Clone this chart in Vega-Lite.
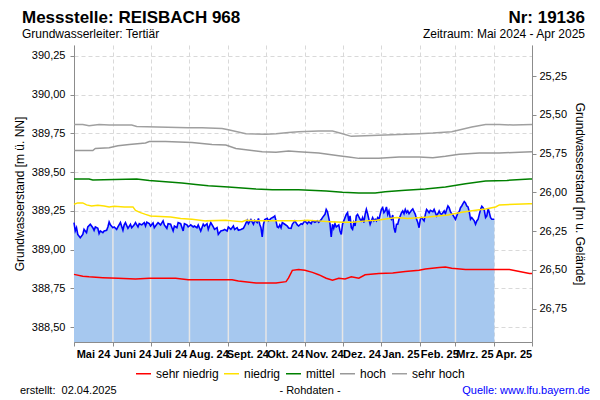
{
  "$schema": "https://vega.github.io/schema/vega-lite/v6.json",
  "width": 458,
  "height": 297,
  "autosize": {"type": "none"},
  "padding": {"left": 74, "top": 45, "right": 68, "bottom": 58},
  "background": "white",
  "config": {
    "font": "Liberation Sans",
    "view": {"stroke": null},
    "axis": {
      "labelFont": "Liberation Sans",
      "titleFont": "Liberation Sans",
      "labelColor": "#000000",
      "titleColor": "#000000",
      "domainColor": "#8c8c8c",
      "tickColor": "#8c8c8c",
      "gridColor": "#d9d9d9",
      "gridDash": [4, 3],
      "labelFontSize": 11,
      "titleFontSize": 12,
      "titleFontWeight": "normal",
      "tickSize": 4
    },
    "legend": {"labelFont": "Liberation Sans", "labelColor": "#000000"}
  },
  "datasets": {
    "messwerte": [
      {"zeit": "2024-05-01", "wert": 389.175}, {"zeit": "2024-05-02", "wert": 389.121}, {"zeit": "2024-05-03", "wert": 389.142}, {"zeit": "2024-05-04", "wert": 389.099},
      {"zeit": "2024-05-06", "wert": 389.078}, {"zeit": "2024-05-08", "wert": 389.099}, {"zeit": "2024-05-09", "wert": 389.131}, {"zeit": "2024-05-11", "wert": 389.110},
      {"zeit": "2024-05-12", "wert": 389.147}, {"zeit": "2024-05-14", "wert": 389.164}, {"zeit": "2024-05-16", "wert": 389.142}, {"zeit": "2024-05-17", "wert": 389.125},
      {"zeit": "2024-05-18", "wert": 389.147}, {"zeit": "2024-05-20", "wert": 389.138}, {"zeit": "2024-05-21", "wert": 389.104}, {"zeit": "2024-05-22", "wert": 389.121},
      {"zeit": "2024-05-24", "wert": 389.110}, {"zeit": "2024-05-25", "wert": 389.121}, {"zeit": "2024-05-27", "wert": 389.125}, {"zeit": "2024-05-28", "wert": 389.147},
      {"zeit": "2024-05-29", "wert": 389.179}, {"zeit": "2024-05-30", "wert": 389.160}, {"zeit": "2024-06-01", "wert": 389.142}, {"zeit": "2024-06-02", "wert": 389.147},
      {"zeit": "2024-06-04", "wert": 389.131}, {"zeit": "2024-06-05", "wert": 389.147}, {"zeit": "2024-06-07", "wert": 389.175}, {"zeit": "2024-06-09", "wert": 389.125},
      {"zeit": "2024-06-10", "wert": 389.160}, {"zeit": "2024-06-11", "wert": 389.175}, {"zeit": "2024-06-13", "wert": 389.138}, {"zeit": "2024-06-15", "wert": 389.164},
      {"zeit": "2024-06-16", "wert": 389.142}, {"zeit": "2024-06-18", "wert": 389.160}, {"zeit": "2024-06-19", "wert": 389.175}, {"zeit": "2024-06-21", "wert": 389.147},
      {"zeit": "2024-06-22", "wert": 389.168}, {"zeit": "2024-06-24", "wert": 389.160}, {"zeit": "2024-06-26", "wert": 389.175}, {"zeit": "2024-06-27", "wert": 389.153},
      {"zeit": "2024-06-28", "wert": 389.177}, {"zeit": "2024-06-30", "wert": 389.168}, {"zeit": "2024-07-01", "wert": 389.153}, {"zeit": "2024-07-03", "wert": 389.173},
      {"zeit": "2024-07-04", "wert": 389.142}, {"zeit": "2024-07-06", "wert": 389.164}, {"zeit": "2024-07-07", "wert": 389.175}, {"zeit": "2024-07-09", "wert": 389.160},
      {"zeit": "2024-07-11", "wert": 389.186}, {"zeit": "2024-07-12", "wert": 389.160}, {"zeit": "2024-07-14", "wert": 389.138}, {"zeit": "2024-07-15", "wert": 389.168},
      {"zeit": "2024-07-17", "wert": 389.164}, {"zeit": "2024-07-19", "wert": 389.121}, {"zeit": "2024-07-20", "wert": 389.153}, {"zeit": "2024-07-22", "wert": 389.142},
      {"zeit": "2024-07-23", "wert": 389.175}, {"zeit": "2024-07-25", "wert": 389.168}, {"zeit": "2024-07-27", "wert": 389.121}, {"zeit": "2024-07-28", "wert": 389.168},
      {"zeit": "2024-07-30", "wert": 389.160}, {"zeit": "2024-07-31", "wert": 389.147}, {"zeit": "2024-08-01", "wert": 389.153}, {"zeit": "2024-08-02", "wert": 389.160},
      {"zeit": "2024-08-04", "wert": 389.147}, {"zeit": "2024-08-05", "wert": 389.153}, {"zeit": "2024-08-07", "wert": 389.142}, {"zeit": "2024-08-08", "wert": 389.160},
      {"zeit": "2024-08-10", "wert": 389.121}, {"zeit": "2024-08-12", "wert": 389.164}, {"zeit": "2024-08-13", "wert": 389.153}, {"zeit": "2024-08-15", "wert": 389.168},
      {"zeit": "2024-08-16", "wert": 389.131}, {"zeit": "2024-08-18", "wert": 389.175}, {"zeit": "2024-08-20", "wert": 389.147}, {"zeit": "2024-08-21", "wert": 389.131},
      {"zeit": "2024-08-23", "wert": 389.142}, {"zeit": "2024-08-24", "wert": 389.099}, {"zeit": "2024-08-26", "wert": 389.121}, {"zeit": "2024-08-28", "wert": 389.125},
      {"zeit": "2024-08-29", "wert": 389.131}, {"zeit": "2024-08-31", "wert": 389.121}, {"zeit": "2024-09-01", "wert": 389.147}, {"zeit": "2024-09-03", "wert": 389.131},
      {"zeit": "2024-09-05", "wert": 389.153}, {"zeit": "2024-09-06", "wert": 389.131}, {"zeit": "2024-09-08", "wert": 389.142}, {"zeit": "2024-09-09", "wert": 389.125},
      {"zeit": "2024-09-11", "wert": 389.131}, {"zeit": "2024-09-13", "wert": 389.138}, {"zeit": "2024-09-14", "wert": 389.153}, {"zeit": "2024-09-16", "wert": 389.189},
      {"zeit": "2024-09-17", "wert": 389.168}, {"zeit": "2024-09-19", "wert": 389.194}, {"zeit": "2024-09-21", "wert": 389.164}, {"zeit": "2024-09-22", "wert": 389.189},
      {"zeit": "2024-09-24", "wert": 389.175}, {"zeit": "2024-09-25", "wert": 389.202}, {"zeit": "2024-09-26", "wert": 389.164}, {"zeit": "2024-09-27", "wert": 389.142},
      {"zeit": "2024-09-28", "wert": 389.082}, {"zeit": "2024-09-29", "wert": 389.164}, {"zeit": "2024-09-30", "wert": 389.194}, {"zeit": "2024-10-01", "wert": 389.198},
      {"zeit": "2024-10-02", "wert": 389.202}, {"zeit": "2024-10-03", "wert": 389.186}, {"zeit": "2024-10-05", "wert": 389.202}, {"zeit": "2024-10-07", "wert": 389.211},
      {"zeit": "2024-10-08", "wert": 389.218}, {"zeit": "2024-10-09", "wert": 389.186}, {"zeit": "2024-10-10", "wert": 389.147}, {"zeit": "2024-10-11", "wert": 389.142},
      {"zeit": "2024-10-12", "wert": 389.160}, {"zeit": "2024-10-13", "wert": 389.142}, {"zeit": "2024-10-14", "wert": 389.175}, {"zeit": "2024-10-16", "wert": 389.164},
      {"zeit": "2024-10-18", "wert": 389.153}, {"zeit": "2024-10-19", "wert": 389.140}, {"zeit": "2024-10-21", "wert": 389.138}, {"zeit": "2024-10-22", "wert": 389.164},
      {"zeit": "2024-10-24", "wert": 389.186}, {"zeit": "2024-10-26", "wert": 389.160}, {"zeit": "2024-10-27", "wert": 389.153}, {"zeit": "2024-10-29", "wert": 389.168},
      {"zeit": "2024-10-30", "wert": 389.164}, {"zeit": "2024-11-01", "wert": 389.186}, {"zeit": "2024-11-03", "wert": 389.168}, {"zeit": "2024-11-04", "wert": 389.181},
      {"zeit": "2024-11-06", "wert": 389.168}, {"zeit": "2024-11-07", "wert": 389.186}, {"zeit": "2024-11-09", "wert": 389.177}, {"zeit": "2024-11-11", "wert": 389.186},
      {"zeit": "2024-11-12", "wert": 389.177}, {"zeit": "2024-11-14", "wert": 389.194}, {"zeit": "2024-11-15", "wert": 389.207}, {"zeit": "2024-11-17", "wert": 389.228},
      {"zeit": "2024-11-18", "wert": 389.260}, {"zeit": "2024-11-19", "wert": 389.245}, {"zeit": "2024-11-20", "wert": 389.207}, {"zeit": "2024-11-21", "wert": 389.168},
      {"zeit": "2024-11-22", "wert": 389.082}, {"zeit": "2024-11-23", "wert": 389.164}, {"zeit": "2024-11-24", "wert": 389.138}, {"zeit": "2024-11-25", "wert": 389.168},
      {"zeit": "2024-11-26", "wert": 389.147}, {"zeit": "2024-11-28", "wert": 389.160}, {"zeit": "2024-11-29", "wert": 389.121}, {"zeit": "2024-11-30", "wert": 389.099},
      {"zeit": "2024-12-01", "wert": 389.164}, {"zeit": "2024-12-02", "wert": 389.186}, {"zeit": "2024-12-03", "wert": 389.207}, {"zeit": "2024-12-04", "wert": 389.228},
      {"zeit": "2024-12-05", "wert": 389.239}, {"zeit": "2024-12-06", "wert": 389.186}, {"zeit": "2024-12-07", "wert": 389.218}, {"zeit": "2024-12-08", "wert": 389.142},
      {"zeit": "2024-12-09", "wert": 389.131}, {"zeit": "2024-12-10", "wert": 389.175}, {"zeit": "2024-12-11", "wert": 389.153}, {"zeit": "2024-12-12", "wert": 389.218},
      {"zeit": "2024-12-13", "wert": 389.228}, {"zeit": "2024-12-15", "wert": 389.196}, {"zeit": "2024-12-16", "wert": 389.186}, {"zeit": "2024-12-17", "wert": 389.207},
      {"zeit": "2024-12-18", "wert": 389.175}, {"zeit": "2024-12-19", "wert": 389.228}, {"zeit": "2024-12-20", "wert": 389.260}, {"zeit": "2024-12-21", "wert": 389.232},
      {"zeit": "2024-12-22", "wert": 389.196}, {"zeit": "2024-12-23", "wert": 389.164}, {"zeit": "2024-12-24", "wert": 389.186}, {"zeit": "2024-12-25", "wert": 389.207},
      {"zeit": "2024-12-26", "wert": 389.186}, {"zeit": "2024-12-27", "wert": 389.196}, {"zeit": "2024-12-28", "wert": 389.186}, {"zeit": "2024-12-29", "wert": 389.207},
      {"zeit": "2024-12-30", "wert": 389.196}, {"zeit": "2025-01-01", "wert": 389.260}, {"zeit": "2025-01-02", "wert": 389.271}, {"zeit": "2025-01-03", "wert": 389.239},
      {"zeit": "2025-01-04", "wert": 389.250}, {"zeit": "2025-01-05", "wert": 389.276}, {"zeit": "2025-01-06", "wert": 389.228}, {"zeit": "2025-01-07", "wert": 389.250},
      {"zeit": "2025-01-08", "wert": 389.207}, {"zeit": "2025-01-09", "wert": 389.196}, {"zeit": "2025-01-10", "wert": 389.224}, {"zeit": "2025-01-11", "wert": 389.142},
      {"zeit": "2025-01-12", "wert": 389.110}, {"zeit": "2025-01-13", "wert": 389.164}, {"zeit": "2025-01-14", "wert": 389.164}, {"zeit": "2025-01-15", "wert": 389.196},
      {"zeit": "2025-01-16", "wert": 389.218}, {"zeit": "2025-01-17", "wert": 389.239}, {"zeit": "2025-01-18", "wert": 389.250}, {"zeit": "2025-01-19", "wert": 389.232},
      {"zeit": "2025-01-20", "wert": 389.260}, {"zeit": "2025-01-21", "wert": 389.239}, {"zeit": "2025-01-22", "wert": 389.250}, {"zeit": "2025-01-23", "wert": 389.232},
      {"zeit": "2025-01-25", "wert": 389.254}, {"zeit": "2025-01-26", "wert": 389.263}, {"zeit": "2025-01-27", "wert": 389.245}, {"zeit": "2025-01-28", "wert": 389.228},
      {"zeit": "2025-01-29", "wert": 389.196}, {"zeit": "2025-01-30", "wert": 389.175}, {"zeit": "2025-01-31", "wert": 389.142}, {"zeit": "2025-02-01", "wert": 389.196},
      {"zeit": "2025-02-02", "wert": 389.207}, {"zeit": "2025-02-03", "wert": 389.196}, {"zeit": "2025-02-04", "wert": 389.186}, {"zeit": "2025-02-05", "wert": 389.228},
      {"zeit": "2025-02-06", "wert": 389.260}, {"zeit": "2025-02-07", "wert": 389.250}, {"zeit": "2025-02-08", "wert": 389.239}, {"zeit": "2025-02-09", "wert": 389.254},
      {"zeit": "2025-02-11", "wert": 389.245}, {"zeit": "2025-02-12", "wert": 389.260}, {"zeit": "2025-02-13", "wert": 389.239}, {"zeit": "2025-02-14", "wert": 389.218},
      {"zeit": "2025-02-15", "wert": 389.232}, {"zeit": "2025-02-16", "wert": 389.250}, {"zeit": "2025-02-17", "wert": 389.232}, {"zeit": "2025-02-18", "wert": 389.228},
      {"zeit": "2025-02-19", "wert": 389.239}, {"zeit": "2025-02-20", "wert": 389.250}, {"zeit": "2025-02-21", "wert": 389.232}, {"zeit": "2025-02-22", "wert": 389.260},
      {"zeit": "2025-02-23", "wert": 389.282}, {"zeit": "2025-02-24", "wert": 389.271}, {"zeit": "2025-02-25", "wert": 389.245}, {"zeit": "2025-02-26", "wert": 389.232},
      {"zeit": "2025-02-27", "wert": 389.224}, {"zeit": "2025-03-01", "wert": 389.196}, {"zeit": "2025-03-02", "wert": 389.218}, {"zeit": "2025-03-03", "wert": 389.239},
      {"zeit": "2025-03-04", "wert": 389.245}, {"zeit": "2025-03-05", "wert": 389.271}, {"zeit": "2025-03-06", "wert": 389.282}, {"zeit": "2025-03-07", "wert": 389.297},
      {"zeit": "2025-03-08", "wert": 389.310}, {"zeit": "2025-03-09", "wert": 389.301}, {"zeit": "2025-03-10", "wert": 389.282}, {"zeit": "2025-03-11", "wert": 389.276},
      {"zeit": "2025-03-12", "wert": 389.245}, {"zeit": "2025-03-13", "wert": 389.196}, {"zeit": "2025-03-14", "wert": 389.207}, {"zeit": "2025-03-16", "wert": 389.186},
      {"zeit": "2025-03-17", "wert": 389.164}, {"zeit": "2025-03-18", "wert": 389.186}, {"zeit": "2025-03-19", "wert": 389.196}, {"zeit": "2025-03-20", "wert": 389.228},
      {"zeit": "2025-03-21", "wert": 389.260}, {"zeit": "2025-03-22", "wert": 389.280}, {"zeit": "2025-03-23", "wert": 389.271}, {"zeit": "2025-03-24", "wert": 389.254},
      {"zeit": "2025-03-25", "wert": 389.207}, {"zeit": "2025-03-26", "wert": 389.218}, {"zeit": "2025-03-27", "wert": 389.267}, {"zeit": "2025-03-28", "wert": 389.239},
      {"zeit": "2025-03-29", "wert": 389.207}, {"zeit": "2025-03-30", "wert": 389.196}, {"zeit": "2025-04-01", "wert": 389.196}
    ],
    "monate": [
      {"zeit": "2024-06-01", "wert": 389.142}, {"zeit": "2024-07-01", "wert": 389.153}, {"zeit": "2024-08-01", "wert": 389.153},
      {"zeit": "2024-09-01", "wert": 389.147}, {"zeit": "2024-10-01", "wert": 389.198}, {"zeit": "2024-11-01", "wert": 389.186},
      {"zeit": "2024-12-01", "wert": 389.164}, {"zeit": "2025-01-01", "wert": 389.260}, {"zeit": "2025-02-01", "wert": 389.196},
      {"zeit": "2025-03-01", "wert": 389.196}
    ],
    "stufen": [
      {"stufe": "sehr hoch", "zeit": "2024-05-01", "wert": 389.808}, {"stufe": "sehr hoch", "zeit": "2024-05-08", "wert": 389.808},
      {"stufe": "sehr hoch", "zeit": "2024-05-13", "wert": 389.800}, {"stufe": "sehr hoch", "zeit": "2024-05-21", "wert": 389.808},
      {"stufe": "sehr hoch", "zeit": "2024-05-29", "wert": 389.804}, {"stufe": "sehr hoch", "zeit": "2024-06-16", "wert": 389.804},
      {"stufe": "sehr hoch", "zeit": "2024-06-20", "wert": 389.795}, {"stufe": "sehr hoch", "zeit": "2024-07-31", "wert": 389.787},
      {"stufe": "sehr hoch", "zeit": "2024-08-11", "wert": 389.787}, {"stufe": "sehr hoch", "zeit": "2024-08-27", "wert": 389.782},
      {"stufe": "sehr hoch", "zeit": "2024-09-01", "wert": 389.774}, {"stufe": "sehr hoch", "zeit": "2024-09-15", "wert": 389.748},
      {"stufe": "sehr hoch", "zeit": "2024-10-01", "wert": 389.744}, {"stufe": "sehr hoch", "zeit": "2024-10-09", "wert": 389.748},
      {"stufe": "sehr hoch", "zeit": "2024-10-19", "wert": 389.756}, {"stufe": "sehr hoch", "zeit": "2024-10-27", "wert": 389.761},
      {"stufe": "sehr hoch", "zeit": "2024-11-12", "wert": 389.765}, {"stufe": "sehr hoch", "zeit": "2024-11-23", "wert": 389.765},
      {"stufe": "sehr hoch", "zeit": "2024-12-01", "wert": 389.748}, {"stufe": "sehr hoch", "zeit": "2024-12-08", "wert": 389.731},
      {"stufe": "sehr hoch", "zeit": "2024-12-19", "wert": 389.735}, {"stufe": "sehr hoch", "zeit": "2025-01-04", "wert": 389.740},
      {"stufe": "sehr hoch", "zeit": "2025-01-31", "wert": 389.748}, {"stufe": "sehr hoch", "zeit": "2025-02-11", "wert": 389.752},
      {"stufe": "sehr hoch", "zeit": "2025-02-26", "wert": 389.761}, {"stufe": "sehr hoch", "zeit": "2025-03-14", "wert": 389.791},
      {"stufe": "sehr hoch", "zeit": "2025-03-25", "wert": 389.808}, {"stufe": "sehr hoch", "zeit": "2025-04-05", "wert": 389.808},
      {"stufe": "sehr hoch", "zeit": "2025-04-16", "wert": 389.804}, {"stufe": "sehr hoch", "zeit": "2025-05-01", "wert": 389.808},
      {"stufe": "hoch", "zeit": "2024-05-01", "wert": 389.640}, {"stufe": "hoch", "zeit": "2024-05-16", "wert": 389.640},
      {"stufe": "hoch", "zeit": "2024-05-18", "wert": 389.653}, {"stufe": "hoch", "zeit": "2024-05-29", "wert": 389.658},
      {"stufe": "hoch", "zeit": "2024-06-05", "wert": 389.671}, {"stufe": "hoch", "zeit": "2024-06-14", "wert": 389.679},
      {"stufe": "hoch", "zeit": "2024-06-27", "wert": 389.688}, {"stufe": "hoch", "zeit": "2024-06-30", "wert": 389.697},
      {"stufe": "hoch", "zeit": "2024-07-13", "wert": 389.697}, {"stufe": "hoch", "zeit": "2024-08-03", "wert": 389.692},
      {"stufe": "hoch", "zeit": "2024-08-19", "wert": 389.679}, {"stufe": "hoch", "zeit": "2024-08-30", "wert": 389.675},
      {"stufe": "hoch", "zeit": "2024-09-07", "wert": 389.653}, {"stufe": "hoch", "zeit": "2024-09-15", "wert": 389.645},
      {"stufe": "hoch", "zeit": "2024-09-28", "wert": 389.632}, {"stufe": "hoch", "zeit": "2024-10-09", "wert": 389.628},
      {"stufe": "hoch", "zeit": "2024-10-19", "wert": 389.636}, {"stufe": "hoch", "zeit": "2024-10-27", "wert": 389.632},
      {"stufe": "hoch", "zeit": "2024-11-12", "wert": 389.624}, {"stufe": "hoch", "zeit": "2024-11-28", "wert": 389.606},
      {"stufe": "hoch", "zeit": "2024-12-06", "wert": 389.598}, {"stufe": "hoch", "zeit": "2024-12-14", "wert": 389.589},
      {"stufe": "hoch", "zeit": "2024-12-30", "wert": 389.589}, {"stufe": "hoch", "zeit": "2025-01-15", "wert": 389.598},
      {"stufe": "hoch", "zeit": "2025-01-31", "wert": 389.598}, {"stufe": "hoch", "zeit": "2025-02-11", "wert": 389.593},
      {"stufe": "hoch", "zeit": "2025-02-21", "wert": 389.602}, {"stufe": "hoch", "zeit": "2025-03-04", "wert": 389.615},
      {"stufe": "hoch", "zeit": "2025-03-20", "wert": 389.624}, {"stufe": "hoch", "zeit": "2025-04-05", "wert": 389.624},
      {"stufe": "hoch", "zeit": "2025-04-21", "wert": 389.628}, {"stufe": "hoch", "zeit": "2025-05-01", "wert": 389.632},
      {"stufe": "mittel", "zeit": "2024-05-01", "wert": 389.456}, {"stufe": "mittel", "zeit": "2024-05-13", "wert": 389.456},
      {"stufe": "mittel", "zeit": "2024-05-16", "wert": 389.450}, {"stufe": "mittel", "zeit": "2024-06-20", "wert": 389.456},
      {"stufe": "mittel", "zeit": "2024-06-30", "wert": 389.447}, {"stufe": "mittel", "zeit": "2024-07-13", "wert": 389.439},
      {"stufe": "mittel", "zeit": "2024-07-26", "wert": 389.430}, {"stufe": "mittel", "zeit": "2024-08-06", "wert": 389.421},
      {"stufe": "mittel", "zeit": "2024-08-16", "wert": 389.413}, {"stufe": "mittel", "zeit": "2024-09-01", "wert": 389.405},
      {"stufe": "mittel", "zeit": "2024-09-23", "wert": 389.392}, {"stufe": "mittel", "zeit": "2024-10-06", "wert": 389.387},
      {"stufe": "mittel", "zeit": "2024-10-27", "wert": 389.387}, {"stufe": "mittel", "zeit": "2024-11-18", "wert": 389.379},
      {"stufe": "mittel", "zeit": "2024-12-01", "wert": 389.370}, {"stufe": "mittel", "zeit": "2024-12-14", "wert": 389.366},
      {"stufe": "mittel", "zeit": "2024-12-27", "wert": 389.366}, {"stufe": "mittel", "zeit": "2025-01-04", "wert": 389.374},
      {"stufe": "mittel", "zeit": "2025-01-20", "wert": 389.383}, {"stufe": "mittel", "zeit": "2025-02-05", "wert": 389.392},
      {"stufe": "mittel", "zeit": "2025-02-21", "wert": 389.405}, {"stufe": "mittel", "zeit": "2025-03-09", "wert": 389.426},
      {"stufe": "mittel", "zeit": "2025-03-25", "wert": 389.443}, {"stufe": "mittel", "zeit": "2025-04-11", "wert": 389.447},
      {"stufe": "mittel", "zeit": "2025-04-29", "wert": 389.456}, {"stufe": "mittel", "zeit": "2025-05-01", "wert": 389.456},
      {"stufe": "niedrig", "zeit": "2024-05-01", "wert": 389.293}, {"stufe": "niedrig", "zeit": "2024-05-04", "wert": 389.302},
      {"stufe": "niedrig", "zeit": "2024-05-08", "wert": 389.302}, {"stufe": "niedrig", "zeit": "2024-05-11", "wert": 389.289},
      {"stufe": "niedrig", "zeit": "2024-05-15", "wert": 389.282}, {"stufe": "niedrig", "zeit": "2024-05-20", "wert": 389.286},
      {"stufe": "niedrig", "zeit": "2024-05-25", "wert": 389.282}, {"stufe": "niedrig", "zeit": "2024-05-29", "wert": 389.276},
      {"stufe": "niedrig", "zeit": "2024-06-02", "wert": 389.280}, {"stufe": "niedrig", "zeit": "2024-06-10", "wert": 389.276},
      {"stufe": "niedrig", "zeit": "2024-06-17", "wert": 389.276}, {"stufe": "niedrig", "zeit": "2024-06-19", "wert": 389.254},
      {"stufe": "niedrig", "zeit": "2024-06-23", "wert": 389.239}, {"stufe": "niedrig", "zeit": "2024-06-27", "wert": 389.228},
      {"stufe": "niedrig", "zeit": "2024-07-01", "wert": 389.218}, {"stufe": "niedrig", "zeit": "2024-07-09", "wert": 389.215},
      {"stufe": "niedrig", "zeit": "2024-07-17", "wert": 389.211}, {"stufe": "niedrig", "zeit": "2024-07-25", "wert": 389.202},
      {"stufe": "niedrig", "zeit": "2024-08-03", "wert": 389.196}, {"stufe": "niedrig", "zeit": "2024-08-14", "wert": 389.186},
      {"stufe": "niedrig", "zeit": "2024-08-30", "wert": 389.190}, {"stufe": "niedrig", "zeit": "2024-09-04", "wert": 389.186},
      {"stufe": "niedrig", "zeit": "2024-09-12", "wert": 389.181}, {"stufe": "niedrig", "zeit": "2024-09-15", "wert": 389.190},
      {"stufe": "niedrig", "zeit": "2024-09-25", "wert": 389.186}, {"stufe": "niedrig", "zeit": "2024-10-26", "wert": 389.186},
      {"stufe": "niedrig", "zeit": "2024-11-03", "wert": 389.190}, {"stufe": "niedrig", "zeit": "2024-11-11", "wert": 389.186},
      {"stufe": "niedrig", "zeit": "2024-11-21", "wert": 389.181}, {"stufe": "niedrig", "zeit": "2024-12-02", "wert": 389.177},
      {"stufe": "niedrig", "zeit": "2024-12-09", "wert": 389.177}, {"stufe": "niedrig", "zeit": "2024-12-20", "wert": 389.186},
      {"stufe": "niedrig", "zeit": "2024-12-28", "wert": 389.190}, {"stufe": "niedrig", "zeit": "2025-01-03", "wert": 389.196},
      {"stufe": "niedrig", "zeit": "2025-01-13", "wert": 389.207}, {"stufe": "niedrig", "zeit": "2025-01-22", "wert": 389.202},
      {"stufe": "niedrig", "zeit": "2025-02-07", "wert": 389.211}, {"stufe": "niedrig", "zeit": "2025-02-23", "wert": 389.224},
      {"stufe": "niedrig", "zeit": "2025-03-06", "wert": 389.241}, {"stufe": "niedrig", "zeit": "2025-03-17", "wert": 389.254},
      {"stufe": "niedrig", "zeit": "2025-03-25", "wert": 389.263}, {"stufe": "niedrig", "zeit": "2025-04-02", "wert": 389.276},
      {"stufe": "niedrig", "zeit": "2025-04-05", "wert": 389.289}, {"stufe": "niedrig", "zeit": "2025-04-29", "wert": 389.297},
      {"stufe": "niedrig", "zeit": "2025-05-01", "wert": 389.297},
      {"stufe": "sehr niedrig", "zeit": "2024-05-01", "wert": 388.841}, {"stufe": "sehr niedrig", "zeit": "2024-05-08", "wert": 388.829},
      {"stufe": "sehr niedrig", "zeit": "2024-05-13", "wert": 388.825}, {"stufe": "sehr niedrig", "zeit": "2024-05-24", "wert": 388.820},
      {"stufe": "sehr niedrig", "zeit": "2024-06-05", "wert": 388.816}, {"stufe": "sehr niedrig", "zeit": "2024-06-19", "wert": 388.812},
      {"stufe": "sehr niedrig", "zeit": "2024-06-30", "wert": 388.816}, {"stufe": "sehr niedrig", "zeit": "2024-07-21", "wert": 388.816},
      {"stufe": "sehr niedrig", "zeit": "2024-07-31", "wert": 388.807}, {"stufe": "sehr niedrig", "zeit": "2024-09-04", "wert": 388.807},
      {"stufe": "sehr niedrig", "zeit": "2024-09-09", "wert": 388.799}, {"stufe": "sehr niedrig", "zeit": "2024-09-23", "wert": 388.786},
      {"stufe": "sehr niedrig", "zeit": "2024-10-09", "wert": 388.786}, {"stufe": "sehr niedrig", "zeit": "2024-10-17", "wert": 388.794},
      {"stufe": "sehr niedrig", "zeit": "2024-10-19", "wert": 388.818}, {"stufe": "sehr niedrig", "zeit": "2024-10-22", "wert": 388.867},
      {"stufe": "sehr niedrig", "zeit": "2024-10-27", "wert": 388.872}, {"stufe": "sehr niedrig", "zeit": "2024-11-01", "wert": 388.867},
      {"stufe": "sehr niedrig", "zeit": "2024-11-07", "wert": 388.854}, {"stufe": "sehr niedrig", "zeit": "2024-11-12", "wert": 388.839},
      {"stufe": "sehr niedrig", "zeit": "2024-11-18", "wert": 388.816}, {"stufe": "sehr niedrig", "zeit": "2024-11-23", "wert": 388.803},
      {"stufe": "sehr niedrig", "zeit": "2024-11-28", "wert": 388.816}, {"stufe": "sehr niedrig", "zeit": "2024-12-03", "wert": 388.812},
      {"stufe": "sehr niedrig", "zeit": "2024-12-08", "wert": 388.825}, {"stufe": "sehr niedrig", "zeit": "2024-12-14", "wert": 388.816},
      {"stufe": "sehr niedrig", "zeit": "2024-12-19", "wert": 388.838}, {"stufe": "sehr niedrig", "zeit": "2024-12-30", "wert": 388.846},
      {"stufe": "sehr niedrig", "zeit": "2025-01-10", "wert": 388.850}, {"stufe": "sehr niedrig", "zeit": "2025-01-20", "wert": 388.859},
      {"stufe": "sehr niedrig", "zeit": "2025-01-31", "wert": 388.867}, {"stufe": "sehr niedrig", "zeit": "2025-02-05", "wert": 388.876},
      {"stufe": "sehr niedrig", "zeit": "2025-02-16", "wert": 388.885}, {"stufe": "sehr niedrig", "zeit": "2025-02-21", "wert": 388.889},
      {"stufe": "sehr niedrig", "zeit": "2025-02-26", "wert": 388.880}, {"stufe": "sehr niedrig", "zeit": "2025-03-09", "wert": 388.872},
      {"stufe": "sehr niedrig", "zeit": "2025-03-25", "wert": 388.872}, {"stufe": "sehr niedrig", "zeit": "2025-04-13", "wert": 388.872},
      {"stufe": "sehr niedrig", "zeit": "2025-04-21", "wert": 388.859}, {"stufe": "sehr niedrig", "zeit": "2025-04-29", "wert": 388.846},
      {"stufe": "sehr niedrig", "zeit": "2025-05-01", "wert": 388.846}
    ]
  },
  "layer": [
    {
      "data": {"name": "messwerte"},
      "mark": {"type": "area", "color": "#a6c8ef", "opacity": 1},
      "encoding": {
        "x": {
          "field": "zeit", "type": "temporal",
          "scale": {"domain": [{"year": 2024, "month": 5, "date": 1}, {"year": 2025, "month": 5, "date": 1}], "nice": false},
          "axis": {
            "title": null,
            "orient": "bottom",
            "tickCount": {"interval": "month", "step": 1},
            "labelExpr": "(year(datum.value) == 2025 && month(datum.value) == 4) ? '' : ['Jan.','Feb.','Mrz.','Apr.','Mai','Juni','Juli','Aug.','Sept.','Okt.','Nov.','Dez.'][month(datum.value)] + ' ' + timeFormat(datum.value, '%y')",
            "labelAlign": "center",
            "labelOffset": 19,
            "labelFontWeight": "bold",
            "labelOverlap": false,
            "labelBound": false,
            "labelFlush": false,
            "labelPadding": 2,
            "grid": true
          }
        },
        "y": {
          "field": "wert", "type": "quantitative",
          "scale": {"domain": [388.405, 390.32], "nice": false, "zero": false},
          "axis": {
            "title": "Grundwasserstand [m ü. NN]",
            "orient": "left",
            "values": [388.5, 388.75, 389, 389.25, 389.5, 389.75, 390, 390.25],
            "labelExpr": "replace(format(datum.value, '.2f'), '.', ',')",
            "labelPadding": 5,
            "titlePadding": 5,
            "grid": true
          }
        },
        "y2": {"datum": 388.405}
      }
    },
    {
      "data": {"name": "monate"},
      "mark": {"type": "rule", "color": "#e6e6e6", "strokeWidth": 1.5},
      "encoding": {
        "x": {"field": "zeit", "type": "temporal", "axis": null},
        "y": {"field": "wert", "type": "quantitative", "axis": null},
        "y2": {"datum": 388.405}
      }
    },
    {
      "data": {"name": "messwerte"},
      "mark": {"type": "line", "color": "#0000ff", "strokeWidth": 1.6},
      "encoding": {
        "x": {"field": "zeit", "type": "temporal", "axis": null},
        "y": {"field": "wert", "type": "quantitative", "axis": null}
      }
    },
    {
      "data": {"name": "stufen"},
      "mark": {"type": "line", "strokeWidth": 1.5},
      "encoding": {
        "x": {"field": "zeit", "type": "temporal", "axis": null},
        "y": {"field": "wert", "type": "quantitative", "axis": null},
        "color": {
          "field": "stufe", "type": "nominal",
          "scale": {
            "domain": ["sehr niedrig", "niedrig", "mittel", "hoch", "sehr hoch"],
            "range": ["#ff0000", "#ffe100", "#008000", "#999999", "#a0a0a0"]
          },
          "legend": {
            "title": null,
            "orient": "none",
            "legendX": 61,
            "legendY": 320,
            "direction": "horizontal",
            "symbolType": "stroke",
            "symbolSize": 225,
            "symbolStrokeWidth": 1.5,
            "labelFontSize": 12,
            "labelOffset": 4,
            "columnPadding": 2,
            "padding": 0
          }
        }
      }
    },
    {
      "data": {"values": [{}]},
      "mark": {"type": "text", "align": "left", "baseline": "alphabetic", "fontSize": 17, "fontWeight": "bold", "color": "#000000", "dx": -52, "dy": -22, "text": "Messstelle: REISBACH 968"},
      "encoding": {
        "x": {"datum": {"year": 2024, "month": 5, "date": 1}, "type": "temporal", "axis": null},
        "y": {"datum": 390.32, "type": "quantitative", "axis": null}
      }
    },
    {
      "data": {"values": [{}]},
      "mark": {"type": "text", "align": "right", "baseline": "alphabetic", "fontSize": 17, "fontWeight": "bold", "color": "#000000", "dx": 53, "dy": -22, "text": "Nr: 19136"},
      "encoding": {
        "x": {"datum": {"year": 2025, "month": 5, "date": 1}, "type": "temporal", "axis": null},
        "y": {"datum": 390.32, "type": "quantitative", "axis": null}
      }
    },
    {
      "data": {"values": [{}]},
      "mark": {"type": "text", "align": "left", "baseline": "alphabetic", "fontSize": 12, "color": "#000000", "dx": -52, "dy": -7, "text": "Grundwasserleiter: Tertiär"},
      "encoding": {
        "x": {"datum": {"year": 2024, "month": 5, "date": 1}, "type": "temporal", "axis": null},
        "y": {"datum": 390.32, "type": "quantitative", "axis": null}
      }
    },
    {
      "data": {"values": [{}]},
      "mark": {"type": "text", "align": "right", "baseline": "alphabetic", "fontSize": 12, "color": "#000000", "dx": 53, "dy": -7, "text": "Zeitraum: Mai 2024 - Apr 2025"},
      "encoding": {
        "x": {"datum": {"year": 2025, "month": 5, "date": 1}, "type": "temporal", "axis": null},
        "y": {"datum": 390.32, "type": "quantitative", "axis": null}
      }
    },
    {
      "data": {"values": [{}]},
      "mark": {"type": "text", "align": "left", "baseline": "alphabetic", "fontSize": 11, "color": "#000000", "dx": -54, "dy": 52, "text": "erstellt:\u00a0\u00a002.04.2025"},
      "encoding": {
        "x": {"datum": {"year": 2024, "month": 5, "date": 1}, "type": "temporal", "axis": null},
        "y": {"datum": 388.405, "type": "quantitative", "axis": null}
      }
    },
    {
      "data": {"values": [{}]},
      "mark": {"type": "text", "align": "center", "baseline": "alphabetic", "fontSize": 11, "color": "#000000", "dx": 236, "dy": 52, "text": "- Rohdaten -"},
      "encoding": {
        "x": {"datum": {"year": 2024, "month": 5, "date": 1}, "type": "temporal", "axis": null},
        "y": {"datum": 388.405, "type": "quantitative", "axis": null}
      }
    },
    {
      "data": {"values": [{}]},
      "mark": {"type": "text", "align": "right", "baseline": "alphabetic", "fontSize": 11, "color": "#0000ff", "dx": 58, "dy": 52, "text": "Quelle: www.lfu.bayern.de"},
      "encoding": {
        "x": {"datum": {"year": 2025, "month": 5, "date": 1}, "type": "temporal", "axis": null},
        "y": {"datum": 388.405, "type": "quantitative", "axis": null}
      }
    },
    {
      "data": {"values": [{}]},
      "mark": {"type": "rule", "strokeOpacity": 0},
      "encoding": {
        "y": {
          "datum": 389.37, "type": "quantitative",
          "axis": {
            "orient": "right",
            "title": "Grundwasserstand [m u. Gelände]",
            "values": [390.12, 389.87, 389.62, 389.37, 389.12, 388.87, 388.62],
            "labelExpr": "replace(format(415.37 - datum.value, '.2f'), '.', ',')",
            "labelPadding": 3,
            "titlePadding": 6,
            "grid": false
          }
        }
      }
    }
  ],
  "resolve": {"axis": {"x": "independent", "y": "independent"}}
}
